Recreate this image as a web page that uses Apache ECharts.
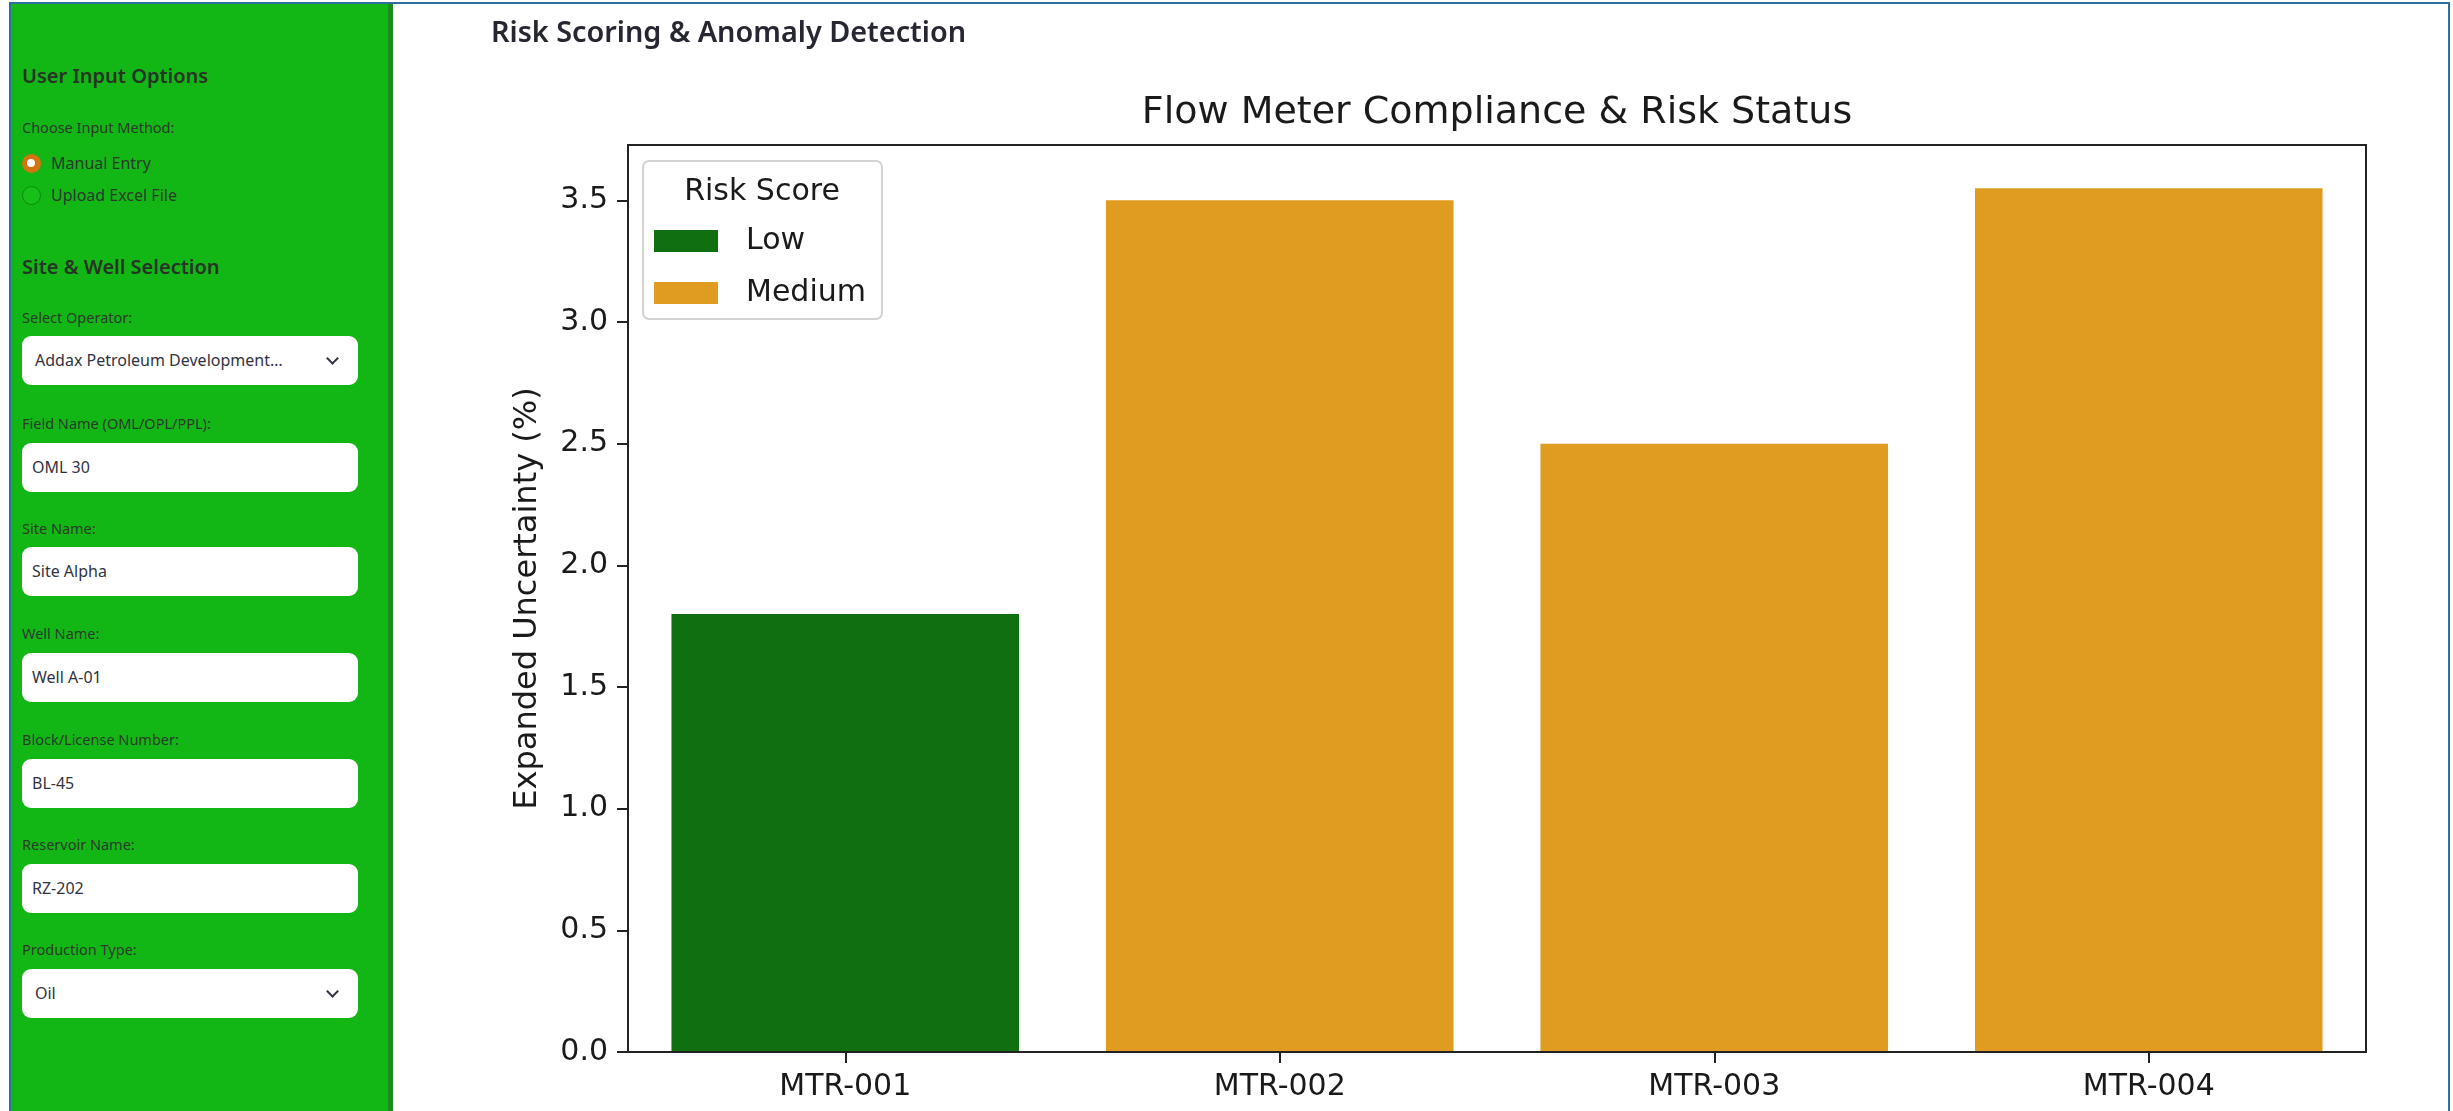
<!DOCTYPE html>
<html><head><meta charset="utf-8">
<script src="https://cdn.jsdelivr.net/npm/echarts@6/dist/echarts.min.js"></script>
<style>
html,body{margin:0;padding:0;background:#fff;width:2453px;height:1111px;overflow:hidden;font-family:"Noto Sans",sans-serif;color:#31333F;}
#chart{position:absolute;left:0;top:0;width:2453px;height:1111px;z-index:0;}
#frame{position:absolute;left:9px;top:2px;width:2441px;height:1200px;border:2px solid #2e6f9e;border-bottom:none;box-sizing:border-box;z-index:3;pointer-events:none;}
#sidebar{position:absolute;left:11px;top:4px;width:377px;height:1200px;background:#13b715;border-right:5px solid #1f8b1f;z-index:2;}
.abs{position:absolute;white-space:nowrap;}
.h{font-size:20px;font-weight:600;line-height:28px;color:#263326;}
.lbl{font-size:14.5px;line-height:20px;color:#2a3a2a;}
.box{position:absolute;left:11px;width:336px;height:49px;background:#fff;border-radius:9px;font-size:16px;line-height:49px;color:#31333F;box-sizing:border-box;padding-left:10px;}
.sel{padding-left:13px;}
.chev{position:absolute;right:21px;top:18px;width:7px;height:7px;border-right:2.2px solid #31333F;border-bottom:2.2px solid #31333F;transform:rotate(45deg);}
.radio{position:absolute;width:19px;height:19px;border-radius:50%;box-sizing:border-box;}
#heading{position:absolute;left:491px;top:13px;font-size:28.8px;font-weight:600;line-height:36px;color:#262730;z-index:2;}
</style></head>
<body>
<div id="chart"></div>
<div id="sidebar">
  <div class="abs h" style="left:11px;top:58px;">User Input Options</div>
  <div class="abs lbl" style="left:11px;top:113px;">Choose Input Method:</div>
  <div class="radio" style="left:10.5px;top:149.5px;background:#d2740f;"><div style="position:absolute;left:5.5px;top:5.5px;width:8px;height:8px;border-radius:50%;background:#fff;"></div></div>
  <div class="abs" style="left:40px;top:148px;font-size:16px;line-height:22px;color:#2a3a2a;">Manual Entry</div>
  <div class="radio" style="left:10.5px;top:181.5px;background:#17c019;border:1.5px solid #0c8a0e;"></div>
  <div class="abs" style="left:40px;top:180px;font-size:16px;line-height:22px;color:#2a3a2a;">Upload Excel File</div>
  <div class="abs h" style="left:11px;top:249px;">Site &amp; Well Selection</div>

  <div class="abs lbl" style="left:11px;top:303px;">Select Operator:</div>
  <div class="box sel" style="top:332px;">Addax Petroleum Development…<div class="chev"></div></div>

  <div class="abs lbl" style="left:11px;top:409px;">Field Name (OML/OPL/PPL):</div>
  <div class="box" style="top:439px;">OML 30</div>

  <div class="abs lbl" style="left:11px;top:514px;">Site Name:</div>
  <div class="box" style="top:543px;">Site Alpha</div>

  <div class="abs lbl" style="left:11px;top:619px;">Well Name:</div>
  <div class="box" style="top:649px;">Well A-01</div>

  <div class="abs lbl" style="left:11px;top:725px;">Block/License Number:</div>
  <div class="box" style="top:755px;">BL-45</div>

  <div class="abs lbl" style="left:11px;top:830px;">Reservoir Name:</div>
  <div class="box" style="top:860px;">RZ-202</div>

  <div class="abs lbl" style="left:11px;top:935px;">Production Type:</div>
  <div class="box sel" style="top:965px;">Oil<div class="chev"></div></div>
</div>
<div id="frame"></div>
<div id="heading">Risk Scoring &amp; Anomaly Detection</div>
<script>
// ---- data ----
const categories = ['MTR-001', 'MTR-002', 'MTR-003', 'MTR-004'];
const uncertainty = [1.8, 3.5, 2.5, 3.55];
const riskScore = ['Low', 'Medium', 'Medium', 'Medium'];
const riskLevels = ['Low', 'Medium'];
const yTicks = [0, 0.5, 1.0, 1.5, 2.0, 2.5, 3.0, 3.5];
const chartTitle = 'Flow Meter Compliance & Risk Status';
const yAxisTitle = 'Expanded Uncertainty (%)';
const legendTitle = 'Risk Score';

// ---- styling ----
const levelColors = {Low: '#107010', Medium: '#df9c20'};
const FONT = 'DejaVu Sans';
const INK = '#1a1a1a';
const SPINE = '#222222';

const chart = echarts.init(document.getElementById('chart'), null, {renderer: 'canvas'});
const yMax = Math.max(...uncertainty) * 1.05;

chart.setOption({
  animation: false,
  backgroundColor: 'transparent',
  grid: {left: 628, right: 87, top: 145, bottom: 59, show: true, borderColor: SPINE, borderWidth: 2, backgroundColor: 'transparent'},
  xAxis: {
    type: 'category', data: categories, z: 10,
    axisLine: {show: true, lineStyle: {color: SPINE, width: 2}},
    axisTick: {show: true, alignWithLabel: true, length: 11, lineStyle: {color: SPINE, width: 2}},
    axisLabel: {fontSize: 30, fontFamily: FONT, color: INK, margin: 20},
    splitLine: {show: false}
  },
  yAxis: {
    type: 'value', min: 0, max: yMax, interval: 0.5, z: 10,
    name: yAxisTitle, nameLocation: 'middle', nameGap: 84, nameRotate: 90,
    nameTextStyle: {fontSize: 32, fontFamily: FONT, color: INK},
    axisLine: {show: true, lineStyle: {color: SPINE, width: 2}},
    axisTick: {show: true, length: 11, lineStyle: {color: SPINE, width: 2}, customValues: yTicks},
    axisLabel: {fontSize: 30, fontFamily: FONT, color: INK, margin: 20, customValues: yTicks,
      formatter: v => Number(v).toFixed(1)},
    splitLine: {show: false}
  },
  legend: {
    data: riskLevels, orient: 'vertical', left: 643, top: 161,
    padding: [65, 16, 11, 11], itemWidth: 64, itemHeight: 22, itemGap: 22,
    icon: 'rect', selectedMode: false,
    backgroundColor: '#ffffff', borderColor: '#d2d2d2', borderWidth: 2, borderRadius: 6,
    textStyle: {fontSize: 30, fontFamily: FONT, color: INK, lineHeight: 30, padding: [0, 0, 0, 23]}
  },
  graphic: [
    {type: 'text', x: 1497, y: 113, z: 100,
      style: {text: chartTitle, fontSize: 38, fontFamily: FONT, fill: INK, align: 'center', verticalAlign: 'middle'}},
    {type: 'text', x: 762, y: 192, z: 100,
      style: {text: legendTitle, fontSize: 30, fontFamily: FONT, fill: INK, align: 'center', verticalAlign: 'middle'}}
  ],
  series: riskLevels.map(lvl => ({
    name: lvl, type: 'bar', barWidth: '80%', barGap: '-100%',
    itemStyle: {color: levelColors[lvl]},
    data: uncertainty.map((v, j) => riskScore[j] === lvl ? v : '-')
  }))
});
</script>
</body></html>
